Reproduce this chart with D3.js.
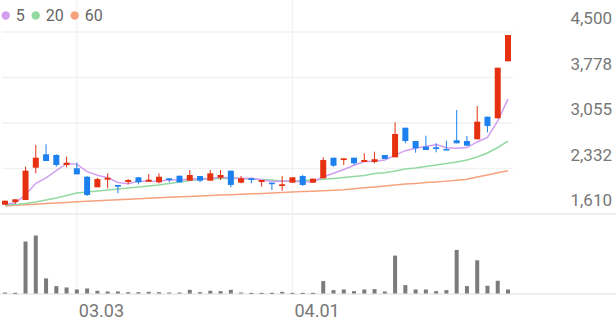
<!DOCTYPE html>
<html>
<head>
<meta charset="utf-8">
<script src="https://cdn.jsdelivr.net/npm/d3@7"></script>
<style>
  html, body { margin: 0; padding: 0; background: #fff; }
  svg { display: block; font-family: Roboto, sans-serif; }
</style>
</head>
<body>
<svg id="chart" width="616" height="321"></svg>
<script>
// daily candles, oldest first
const opens = [1758, 1801, 1832, 2345, 2558, 2547, 2388, 2336, 2202, 2034,
  2155, 2071, 2118, 2193, 2123, 2113, 2177, 2218, 2139, 2213,
  2139, 2186, 2298, 2107, 2177, 2118, 2107, 2055, 2107, 2213,
  2107, 2177, 2504, 2467, 2504, 2436, 2436, 2547, 2510, 2980,
  2769, 2679, 2669, 2642, 2780, 2769, 2796, 3155, 3130, 4035]
const highs = [1821, 1843, 2361, 2706, 2717, 2558, 2520, 2425, 2213, 2186,
  2256, 2071, 2166, 2193, 2245, 2256, 2177, 2218, 2309, 2213,
  2309, 2309, 2298, 2213, 2177, 2150, 2107, 2213, 2193, 2229,
  2171, 2510, 2504, 2494, 2504, 2574, 2599, 2547, 3066, 2980,
  2769, 2853, 2733, 2774, 3261, 2849, 3325, 3155, 3933, 4452]
const lows = [1758, 1769, 1832, 2256, 2452, 2361, 2352, 2240, 1896, 2034,
  2018, 1939, 2082, 2082, 2123, 2097, 2113, 2113, 2139, 2113,
  2139, 2150, 2034, 2097, 2097, 2044, 1991, 1980, 2107, 2055,
  2107, 2177, 2361, 2388, 2388, 2436, 2415, 2483, 2510, 2733,
  2583, 2626, 2590, 2626, 2733, 2695, 2796, 2907, 3130, 4035]
const closes = [1821, 1843, 2298, 2504, 2452, 2388, 2425, 2240, 1912, 2166,
  2186, 2044, 2150, 2113, 2155, 2202, 2150, 2113, 2229, 2139,
  2256, 2229, 2071, 2177, 2150, 2150, 2091, 2082, 2193, 2071,
  2171, 2467, 2377, 2494, 2415, 2467, 2480, 2483, 2880, 2769,
  2653, 2626, 2642, 2626, 2733, 2695, 3076, 3007, 3933, 4452]
const volumes = [3, 2, 155, 173, 45, 22, 18, 12, 15, 8,
  6, 6, 4, 4, 5, 4, 3, 3, 11, 4,
  8, 7, 11, 3, 2, 2, 2, 5, 2, 2,
  2, 37, 10, 12, 7, 12, 13, 6, 113, 25,
  12, 12, 7, 10, 130, 22, 99, 23, 38, 12]

// moving averages as drawn
const ma5 = [1764, 1789, 1912, 2097, 2184, 2297, 2413, 2402, 2283, 2226,
  2186, 2110, 2092, 2132, 2130, 2133, 2154, 2147, 2170, 2167,
  2177, 2193, 2185, 2174, 2177, 2155, 2128, 2130, 2133, 2117,
  2122, 2197, 2256, 2316, 2385, 2444, 2447, 2468, 2545, 2616,
  2653, 2682, 2714, 2663, 2656, 2664, 2754, 2827, 3089, 3433]
const ma20 = [1753, 1761, 1777, 1801, 1832, 1864, 1904, 1943, 1959, 1975,
  1991, 2007, 2023, 2039, 2055, 2071, 2094, 2118, 2142, 2158,
  2166, 2174, 2177, 2174, 2166, 2158, 2150, 2134, 2134, 2142,
  2150, 2161, 2174, 2190, 2205, 2221, 2253, 2266, 2293, 2325,
  2340, 2364, 2388, 2412, 2436, 2468, 2515, 2579, 2666, 2769]
const ma60 = [1737, 1747, 1756, 1766, 1775, 1785, 1794, 1805, 1813, 1820,
  1828, 1835, 1843, 1851, 1859, 1867, 1875, 1882, 1888, 1896,
  1902, 1910, 1916, 1923, 1931, 1937, 1943, 1951, 1958, 1966,
  1972, 1980, 1986, 1997, 2012, 2026, 2040, 2055, 2071, 2085,
  2096, 2109, 2120, 2132, 2145, 2161, 2196, 2229, 2264, 2298]

const priceTicks = [1610, 2332.5, 3055, 3777.5, 4500]
const priceLabels = ['1,610', '2,332', '3,055', '3,778', '4,500']
const dateTicks = [7, 28]
const dateLabels = ['03.03', '04.01']
const maNames = ['5', '20', '60']

const width = 616
const up = '#e5310f'
const down = '#1c80ee'
const maColors = ['#d29ef1', '#93d9a2', '#f6a27e']
const grid = '#f1f1f1'

const svg = d3.select('#chart')

const idx = d3.range(closes.length)
const x = d3.scalePoint()
  .domain(idx)
  .range([5, 508])

const y = d3.scaleLinear()
  .domain([1610, 4500])
  .range([214, 32])

const yVol = d3.scaleLinear()
  .domain([0, d3.max(volumes)])
  .range([293.5, 235.5])

// grid
svg.append('g')
  .selectAll('line')
  .data(priceTicks.slice(1))
  .enter().append('line')
  .attr('x1', 2).attr('x2', 513)
  .attr('y1', d => y(d)).attr('y2', d => y(d))
  .attr('stroke', grid)
  .attr('stroke-width', 1.5)

svg.append('line')
  .attr('x1', 0).attr('x2', width)
  .attr('y1', y(1610)).attr('y2', y(1610))
  .attr('stroke', '#e9e9e9')
  .attr('stroke-width', 1.5)

svg.append('line')
  .attr('x1', 0).attr('x2', width)
  .attr('y1', yVol(0) + 0.5).attr('y2', yVol(0) + 0.5)
  .attr('stroke', '#e9e9e9')
  .attr('stroke-width', 1.5)

svg.append('g')
  .selectAll('line')
  .data(dateTicks)
  .enter().append('line')
  .attr('x1', d => x(d)).attr('x2', d => x(d))
  .attr('y1', 0).attr('y2', yVol(0))
  .attr('stroke', grid)
  .attr('stroke-width', 1.2)

// moving averages
const maLine = d3.line()
  .x((d, i) => x(i))
  .y(d => y(d))

svg.append('g')
  .selectAll('path')
  .data([ma60, ma20, ma5])
  .enter().append('path')
  .attr('d', maLine)
  .attr('fill', 'none')
  .attr('stroke', (d, i) => maColors[2 - i])
  .attr('stroke-width', 1.5)

// candles
const candle = svg.append('g')
  .selectAll('g')
  .data(idx)
  .enter().append('g')
  .attr('fill', i => closes[i] >= opens[i] ? up : down)
  .attr('stroke', i => closes[i] >= opens[i] ? up : down)

candle.append('line')
  .attr('x1', i => x(i)).attr('x2', i => x(i))
  .attr('y1', i => y(highs[i])).attr('y2', i => y(lows[i]))
  .attr('stroke-width', 1)

candle.append('rect')
  .attr('x', i => x(i) - 3)
  .attr('width', 6)
  .attr('y', i => y(Math.max(opens[i], closes[i])))
  .attr('height', i => Math.max(1.5, Math.abs(y(opens[i]) - y(closes[i]))))
  .attr('stroke', 'none')

// volume
svg.append('g')
  .selectAll('rect')
  .data(idx)
  .enter().append('rect')
  .attr('x', i => x(i) - 2)
  .attr('width', 4)
  .attr('y', i => yVol(volumes[i]))
  .attr('height', i => Math.max(1, yVol(0) - yVol(volumes[i])))
  .attr('fill', '#7b7b7b')

// price labels
svg.append('g')
  .selectAll('text')
  .data(priceTicks)
  .enter().append('text')
  .attr('x', 612)
  .attr('y', d => y(d) - 8)
  .attr('text-anchor', 'end')
  .attr('fill', '#777')
  .style('font-size', '17px')
  .text((d, i) => priceLabels[i])

// date labels
svg.append('g')
  .selectAll('text')
  .data(dateTicks)
  .enter().append('text')
  .attr('x', d => x(d) + 2)
  .attr('y', 317)
  .attr('fill', '#777')
  .style('font-size', '18px')
  .text((d, i) => dateLabels[i])

// legend
const legend = svg.append('g')
let cx = 5.7
maNames.forEach((name, i) => {
  legend.append('circle')
    .attr('cx', cx).attr('cy', 15.5)
    .attr('r', 4.2)
    .attr('fill', maColors[i])
  const t = legend.append('text')
    .attr('x', cx + 10)
    .attr('y', 21)
    .attr('fill', '#666')
    .style('font-size', '16px')
    .text(name)
  cx += 10 + t.node().getComputedTextLength() + 11
})
</script>
</body>
</html>
